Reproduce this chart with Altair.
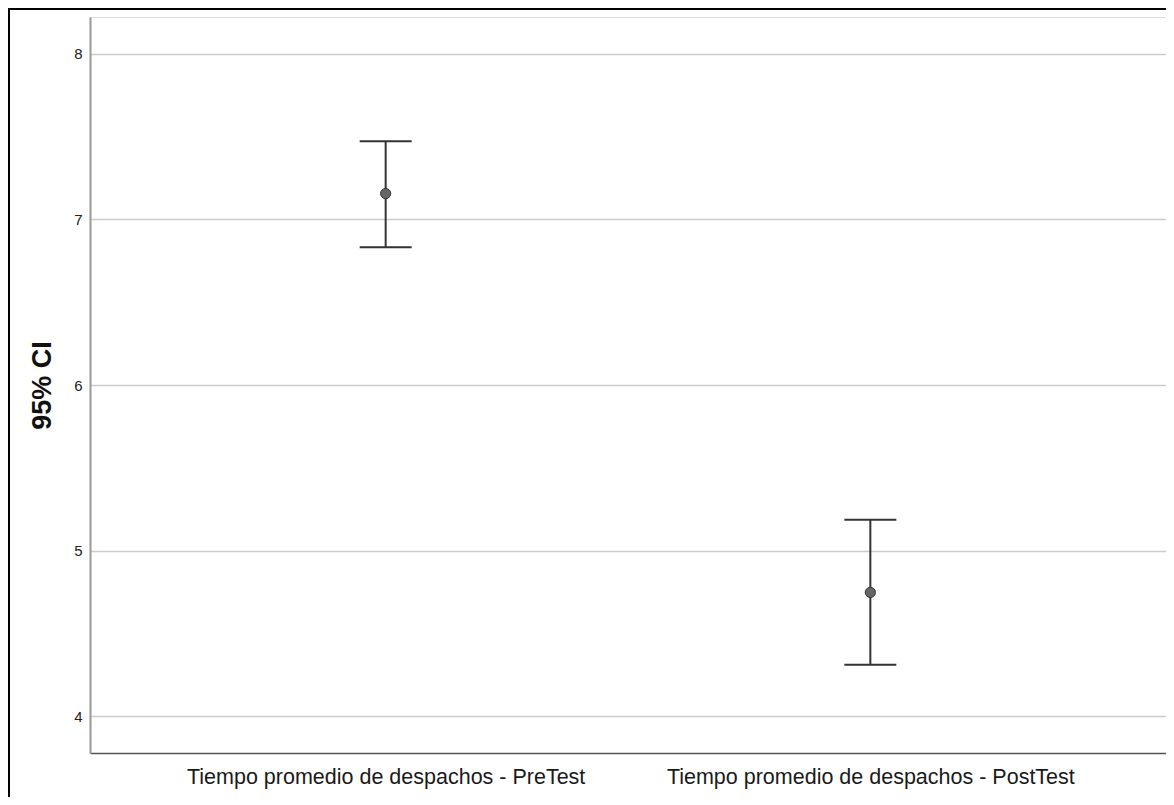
import altair as alt
import pandas as pd

categories = ["Tiempo promedio de despachos - PreTest", "Tiempo promedio de despachos - PostTest"]
means = [7.156, 4.748]
lowers = [6.832, 4.311]
uppers = [7.472, 5.187]

df = pd.DataFrame({"cat": categories, "mean": means, "lo": lowers, "hi": uppers})

FONT = "Liberation Sans"

x = alt.X("cat:N", sort=categories, title=None,
          scale=alt.Scale(type="point", padding=0.61),
          axis=alt.Axis(labelAngle=0, ticks=False, grid=False, labelFont=FONT, labelFontSize=21.5,
                        labelLimit=0, labelColor="#1a1a1a", labelPadding=13,
                        domainColor="#555555", domainWidth=1.5))
yscale = alt.Scale(domain=[3.778, 8.222], nice=False, zero=False)

base = alt.Chart(df)

rule = base.mark_rule(color="#333333", strokeWidth=2).encode(
    x=x,
    y=alt.Y("lo:Q", scale=yscale, title="95% CI",
            axis=alt.Axis(values=[4, 5, 6, 7, 8], format="d", ticks=False, gridColor="#cccccc",
                          gridWidth=1.5, domainColor="#999999", domainWidth=2, labelFont=FONT,
                          labelFontSize=15, labelColor="#222222", labelPadding=8,
                          titleFont="Liberation Sans", titleFontSize=27, titleFontWeight="bold",
                          titleColor="#111111", titlePadding=17)),
    y2="hi:Q",
)
cap_lo = base.mark_tick(color="#333333", size=52, thickness=2, opacity=1).encode(x=x, y=alt.Y("lo:Q", scale=yscale))
cap_hi = base.mark_tick(color="#333333", size=52, thickness=2, opacity=1).encode(x=x, y=alt.Y("hi:Q", scale=yscale))
pt = base.mark_point(filled=True, shape="circle", size=105, fill="#666666", stroke="#333333",
                     strokeWidth=1, opacity=1).encode(x=x, y=alt.Y("mean:Q", scale=yscale))

frame = alt.Chart(pd.DataFrame({"k": [0]})).mark_rect(
    fill=None, stroke="#000000", strokeWidth=2, clip=False
).encode(x=alt.value(-81), x2=alt.value(1300), y=alt.value(-8), y2=alt.value(1000))

chart = alt.layer(frame, rule, cap_lo, cap_hi, pt).properties(
    width=1076, height=736,
    autosize=alt.AutoSizeParams(type="none"),
    padding={"left": 82, "top": 9, "right": 0, "bottom": 44},
).configure_view(stroke=None).configure(background="white")

chart.save("out.html", embed_options={"renderer": "svg", "actions": False})
